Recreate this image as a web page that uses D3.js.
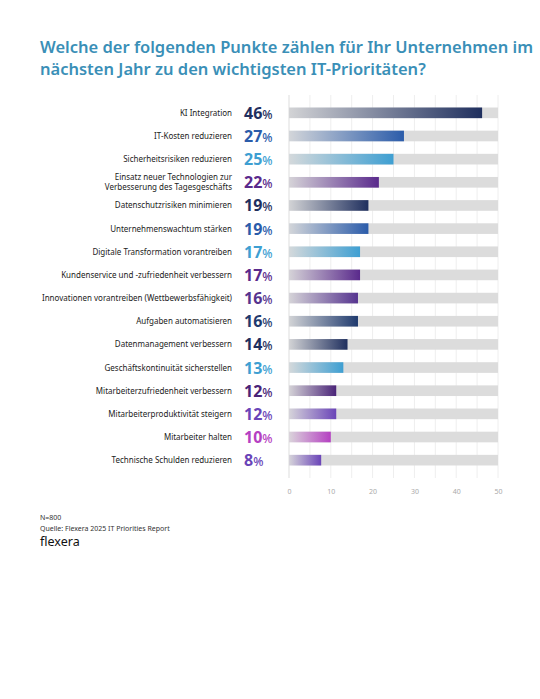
<!DOCTYPE html><html><head><meta charset="utf-8"><script src="https://cdn.jsdelivr.net/npm/d3@7"></script>
<style>body{margin:0;background:#fff}</style></head><body><svg id="c" width="540" height="699"></svg>
<script>
const categories=["KI Integration","IT-Kosten reduzieren","Sicherheitsrisiken reduzieren","Einsatz neuer Technologien zur|Verbesserung des Tagesgeschäfts","Datenschutzrisiken minimieren","Unternehmenswachtum stärken","Digitale Transformation vorantreiben","Kundenservice und -zufriedenheit verbessern","Innovationen vorantreiben (Wettbewerbsfähigkeit)","Aufgaben automatisieren","Datenmanagement verbessern","Geschäftskontinuität sicherstellen","Mitarbeiterzufriedenheit verbessern","Mitarbeiterproduktivität steigern","Mitarbeiter halten","Technische Schulden reduzieren"];
const values=[46,27,25,22,19,19,17,17,16,16,14,13,12,12,10,8];
const barValues=[46.2,27.5,25,21.5,19,19,17,17,16.5,16.5,14,13,11.3,11.3,10,7.7];
const colors=["#1f2f5e","#2b5caa","#3e9fd2","#5a2a8c","#1f2f5e","#2b5caa","#3e9fd2","#5a2a8c","#56348f","#1f3a6e","#1f2f5e","#3e9fd2","#4a2478","#6a44b8","#b540c2","#6a44b8"];
const ticks=[0,10,20,30,40,50];
const svg=d3.select("#c");
const t=svg.append("text").attr("x",40).attr("font-family","Noto Sans").attr("font-weight",600).attr("font-size",16.5).attr("fill","#3a8fb7");
t.append("tspan").attr("x",40).attr("y",53).text("Welche der folgenden Punkte zählen für Ihr Unternehmen im");
t.append("tspan").attr("x",40).attr("y",75).text("nächsten Jahr zu den wichtigsten IT-Prioritäten?");
const x=d3.scaleLinear().domain([0,50]).range([289,498]);
const y=d3.scaleBand().domain(d3.range(16)).range([95,478]).padding(0.54);
const defs=svg.append("defs");
colors.forEach((c,i)=>{const g=defs.append("linearGradient").attr("id","g"+i);g.append("stop").attr("offset","0%").attr("stop-color",c).attr("stop-opacity",0.05);g.append("stop").attr("offset","100%").attr("stop-color",c);});
const gg=svg.append("g");
for(let v=5;v<=50;v+=5)gg.append("line").attr("x1",x(v)).attr("x2",x(v)).attr("y1",95).attr("y2",478).attr("stroke","#eee");
gg.append("line").attr("x1",x(0)).attr("x2",x(0)).attr("y1",95).attr("y2",478).attr("stroke","#ddd");
const ax=svg.append("g").attr("transform","translate(0,478)").call(d3.axisBottom(x).tickValues(ticks).tickSize(0).tickPadding(11));
ax.select(".domain").remove();ax.selectAll("text").attr("font-family","Noto Sans").attr("font-size",7).attr("fill","#aaa");
values.forEach((v,i)=>{
 const yy=y(i),h=y.bandwidth(),cy=yy+h/2;
 svg.append("rect").attr("x",x(0)).attr("y",yy).attr("width",x(50)-x(0)).attr("height",h).attr("fill","#dcdcdc");
 svg.append("rect").attr("x",x(0)).attr("y",yy).attr("width",x(barValues[i])-x(0)).attr("height",h).attr("fill","url(#g"+i+")");
 const lines=categories[i].split("|");
 const lt=svg.append("text").attr("text-anchor","end").attr("font-family","Noto Sans").attr("font-size",8).attr("fill","#222");
 lines.forEach((l,k)=>lt.append("tspan").attr("x",232).attr("y",cy+3+(k-(lines.length-1)/2)*10).text(l));
 const p=svg.append("text").attr("x",244).attr("y",cy+6).attr("font-family","Noto Sans").attr("font-weight",700).attr("font-size",16).attr("fill",colors[i]);
 p.append("tspan").text(v);p.append("tspan").attr("font-size",12).attr("font-weight",500).text("%");
});
svg.append("text").attr("x",40).attr("y",520).attr("font-family","Noto Sans").attr("font-size",7).attr("fill","#333").text("N=800");
svg.append("text").attr("x",40).attr("y",531).attr("font-family","Noto Sans").attr("font-size",7).attr("fill","#333").text("Quelle: Flexera 2025 IT Priorities Report");
svg.append("text").attr("x",40).attr("y",546).attr("font-family","Noto Sans").attr("font-size",12.5).attr("fill","#111").text("flexera");
</script></body></html>
